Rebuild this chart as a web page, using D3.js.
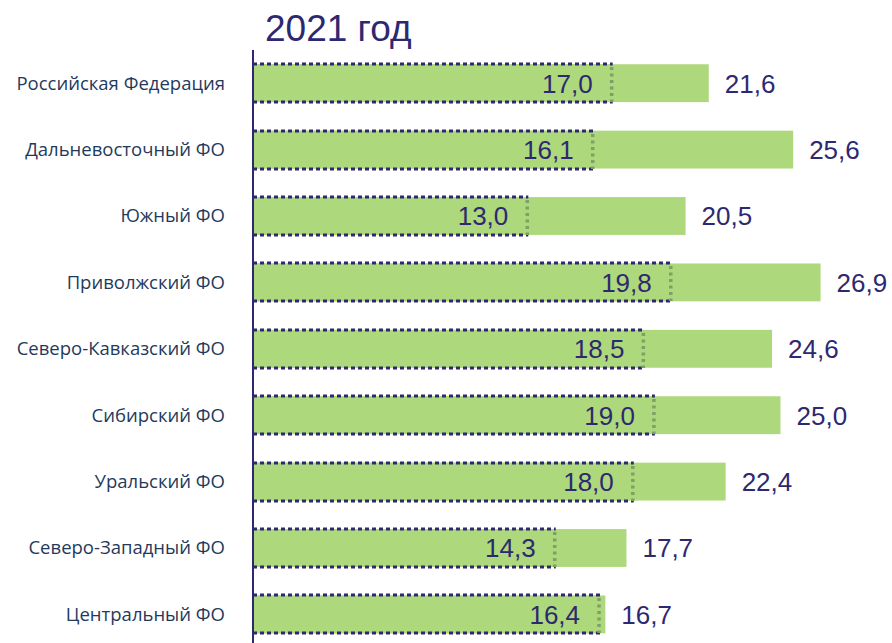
<!DOCTYPE html>
<html>
<head>
<meta charset="utf-8">
<script src="https://cdn.jsdelivr.net/npm/d3@7"></script>
<style>
	body { margin: 0; background: #fff; }
	.cat { font-family: "Open Sans", sans-serif; font-size: 18.5px; fill: #1f3a5c; }
	.val { font-family: "Liberation Sans", Arial, sans-serif; font-size: 26px; fill: #2e2870; }
	.title { font-family: "Liberation Sans", Arial, sans-serif; font-size: 37px; fill: #2e2870; }
</style>
</head>
<body>
<div id="chart"></div>
<script>
var categories = ["Российская Федерация", "Дальневосточный ФО", "Южный ФО", "Приволжский ФО",
	"Северо-Кавказский ФО", "Сибирский ФО", "Уральский ФО", "Северо-Западный ФО", "Центральный ФО"];
var values2021 = [21.6, 25.6, 20.5, 26.9, 24.6, 25.0, 22.4, 17.7, 16.7];
var valuesPrev = [17.0, 16.1, 13.0, 19.8, 18.5, 19.0, 18.0, 14.3, 16.4];
var title = "2021 год";

var width = 892,
	height = 643;

var green = "#add87b",
	navy = "#2e2870";

var svg = d3.select("#chart").append("svg")
	.attr("width", width)
	.attr("height", height);

var x = d3.scaleLinear()
	.domain([0, 30])
	.range([253, 886]);

var y = d3.scaleBand()
	.domain(categories)
	.range([50, 647.6])
	.paddingInner(0.43)
	.paddingOuter(0.215);

var fmt = function(v) { return d3.format(".1f")(v).replace(".", ","); };

/* title */
svg.append("text")
	.attr("class", "title")
	.attr("x", 265)
	.attr("y", 41)
	.text(title);

/* main bars */
svg.selectAll(".bar")
	.data(categories)
	.enter().append("rect")
	.attr("class", "bar")
	.attr("x", x(0))
	.attr("y", function(d) { return y(d); })
	.attr("width", function(d, i) { return x(values2021[i]) - x(0); })
	.attr("height", y.bandwidth())
	.attr("fill", green);

/* overlay boxes for the previous value */
var over = svg.selectAll(".over")
	.data(categories)
	.enter().append("g")
	.attr("class", "over");

over.append("rect")
	.attr("x", x(0))
	.attr("y", function(d) { return y(d); })
	.attr("width", function(d, i) { return x(valuesPrev[i]) - x(0); })
	.attr("height", y.bandwidth())
	.attr("fill", green);

// dashed top and bottom, dotted right edge
over.each(function(d, i) {
	var g = d3.select(this),
		x1 = x(0), x2 = x(valuesPrev[i]),
		y0 = Math.round(y(d)), y1 = Math.round(y(d) + y.bandwidth());
	[y0, y1].forEach(function(yy) {
		g.append("line")
			.attr("x1", x1).attr("x2", x2 + 1)
			.attr("y1", yy).attr("y2", yy)
			.attr("stroke", navy)
			.attr("stroke-width", 3)
			.attr("stroke-dasharray", "4,3");
	});
	g.append("line")
		.attr("x1", x2).attr("x2", x2)
		.attr("y1", y0 + 3).attr("y2", y1)
		.attr("stroke", "#7f9f67")
		.attr("stroke-width", 3.5)
		.attr("stroke-dasharray", "3,3.5");
});

/* value labels */
svg.selectAll(".val-in")
	.data(categories)
	.enter().append("text")
	.attr("class", "val")
	.attr("text-anchor", "end")
	.attr("x", function(d, i) { return x(valuesPrev[i]) - 19; })
	.attr("y", function(d) { return y(d) + y.bandwidth() / 2; })
	.attr("dy", "0.36em")
	.text(function(d, i) { return fmt(valuesPrev[i]); });

svg.selectAll(".val-out")
	.data(categories)
	.enter().append("text")
	.attr("class", "val")
	.attr("x", function(d, i) { return x(values2021[i]) + 16; })
	.attr("y", function(d) { return y(d) + y.bandwidth() / 2; })
	.attr("dy", "0.36em")
	.text(function(d, i) { return fmt(values2021[i]); });

/* category labels */
svg.selectAll(".cat")
	.data(categories)
	.enter().append("text")
	.attr("class", "cat")
	.attr("text-anchor", "end")
	.attr("x", 225)
	.attr("y", function(d) { return y(d) + y.bandwidth() / 2; })
	.attr("dy", "0.35em")
	.text(function(d) { return d; });

/* axis line */
svg.append("line")
	.attr("x1", x(0)).attr("x2", x(0))
	.attr("y1", 50).attr("y2", height)
	.attr("stroke", navy)
	.attr("stroke-width", 2);
</script>
</body>
</html>
